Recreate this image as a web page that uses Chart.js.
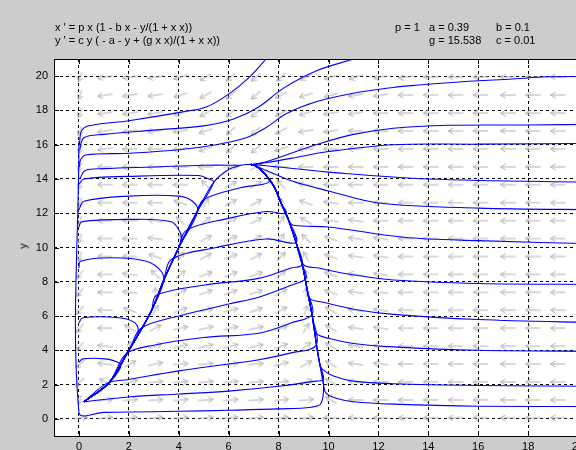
<!DOCTYPE html>
<html><head><meta charset="utf-8">
<script src="https://cdn.jsdelivr.net/npm/chart.js@4"></script>
<style>
html,body{margin:0;padding:0;background:#cccccc;overflow:hidden;width:576px;height:450px;}
#wrap{position:absolute;left:0;top:0;width:660px;height:480px;}
.hd{position:absolute;font:11px "Liberation Sans",Arial,sans-serif;color:#000;white-space:pre;line-height:13px;}
#ylab{position:absolute;left:20px;top:240px;font:11px "Liberation Sans",Arial,sans-serif;transform:rotate(-90deg);}
</style></head><body>
<div id="wrap"><canvas id="c" width="660" height="480"></canvas></div>
<div class="hd" style="left:55px;top:21px">x ' = p x (1 - b x - y/(1 + x x))</div>
<div class="hd" style="left:55px;top:34px">y ' = c y ( - a - y + (g x x)/(1 + x x))</div>
<div class="hd" style="left:395px;top:21px">p = 1</div>
<div class="hd" style="left:429px;top:21px">a = 0.39</div>
<div class="hd" style="left:496px;top:21px">b = 0.1</div>
<div class="hd" style="left:429px;top:34px">g = 15.538</div>
<div class="hd" style="left:496px;top:34px">c = 0.01</div>
<div id="ylab">y</div>
<script>
// ---- axis ticks ----
const xTicks = [0,2,4,6,8,10,12,14,16,18,20];
const yTicks = [0,2,4,6,8,10,12,14,16,18,20];

// ---- direction-field arrows (grid positions + direction codes) ----
const arrowCols = [0.04,1.05,2.05,3.06,4.07,5.08,6.08,7.09,8.1,9.1,10.1,11.1,12.1,13.1,14.1,15.1,16.1,17.2,18.2,19.2];
const arrowRows = [0.06,1.1,2.15,3.2,4.24,5.29,6.34,7.38,8.43,9.47,10.52,11.56,12.61,13.66,14.7,15.75,16.8,17.84,18.89,19.94];
const arrowGrid = [
 "rrrrrrrrrrllllllllll",
 "drrrrrrrrrhlllllllll",
 "chsrrrrrrShkllllllll",
 "cktsrrrrsthkklllllll",
 "eknSssssSThkklllllll",
 "elhtssssSqhkklllllll",
 "elgqSssStohkklllllll",
 "elkntSSStngkklllllll",
 "elkmTSSSTvgkklllllll",
 "dllgqtStuMgkklllllll",
 "dllkntStqmgkklllllll",
 "dllkmTttqhkkllllllll",
 "dlllgqttngklllllllll",
 "dllllmttmkllllllllll",
 "dlllllrtllllllllllll",
 "djlljJccJlllllllllll",
 "djjjjJccwjjlllllllll",
 "djjjJwccwJjjllllllll",
 "djjjJwccwJJjjlllllll",
 "djjjJwcccwJJjjllllll"
];
const codeAngle = {l:180,k:172,g:160,h:150,m:135,M:120,v:105,n:90,o:72,q:58,u:45,T:38,t:29,S:20,s:13,r:5,j:189,J:197,w:208,c:222,e:230,d:250};

// ---- trajectories ----
const rightBranch = [[9.85,1.0],[9.8,2],[9.65,3.2],[9.5,4.5],[9.35,6],[9.15,7.5],[8.95,9],[8.7,10.3],[8.4,11.6],[8.1,12.6],[7.8,13.6],[7.45,14.3],[7.1,14.75],[6.9,14.85]];
const leftBranch = [[0.2,1.0],[1.2,2.1],[2,4.0],[2.9,6.3],[3.4,8.1],[4,10],[4.7,12],[5.4,13.8],[6,14.55],[6.5,14.8],[6.9,14.85]];
const trBottom = [[0,16.2],[0,0.37],[1,0.38],[2,0.4],[4,0.44],[6,0.5],[8,0.58],[9.3,0.68],[9.7,0.9]];
const fan1 = [[0.2,1.0],[2,1.28],[4,1.45],[6,1.62],[8,1.9],[9.5,2.2],[9.8,2.3]];
const fan2 = [[1.15,2.1],[2,2.3],[4,2.8],[6,3.2],[7.2,3.45],[8.5,3.85],[9.5,4.3]];
const fan3 = [[1.9,3.8],[3,4.3],[5,4.75],[7.2,5.0],[8.5,5.6],[9.35,6.1]];
const fan4 = [[2.5,5.3],[4,6.0],[6,6.7],[7.2,7.1],[8.5,7.8],[9.1,8.2]];
const fan5 = [[3.1,7.2],[5,7.8],[7.2,8.2],[8.5,8.8],[8.95,9]];
const fan6 = [[3.7,9.3],[5.5,10],[7.5,10.5],[8.7,10.3]];
const fan7 = [[4.3,11],[6,11.7],[7.5,12.1],[8.3,12]];
const fan8 = [[5,12.8],[6.5,13.5],[7.6,13.8]];
const right1 = [[21,0.72],[16,0.74],[12.6,0.86],[11,1.0],[10.3,1.2],[9.9,1.5]];
const right2 = [[21,1.9],[16,1.95],[12.6,2.05],[11,2.2],[10.2,2.5],[9.75,2.9]];
const right4 = [[21,3.94],[16,4.0],[12.6,4.2],[11,4.4],[10,4.7],[9.5,5]];
const right6 = [[21,5.6],[16,5.8],[12.6,6.1],[11,6.4],[9.8,6.8],[9.25,7.0]];
const right8 = [[21,7.84],[16,7.9],[12.6,8.1],[11,8.4],[9.6,8.8],[9.0,9.0]];
const right10 = [[21,10.2],[16,10.4],[13,10.6],[10,11.2],[8.6,11.3]];
const right12 = [[21,12.2],[16,12.3],[12,12.6],[10,13.3],[8.5,13.9],[7.5,14.5],[7,14.8]];
const right14 = [[21,13.8],[14,14],[10,14.4],[8,14.7],[7,14.85]];
const right16 = [[21,16.08],[16,16.03],[12.6,16.0],[10,15.6],[8.5,15.2],[7.5,14.95],[7,14.85]];
const right17 = [[21,17.19],[17.9,17.15],[14.8,17.13],[12.6,16.96],[11,16.6],[9.5,16.0],[8.5,15.5],[7.5,15.0],[7,14.85]];
const right20 = [[21,19.98],[18.8,19.96],[17.25,19.82],[16,19.73],[14.95,19.63],[13.5,19.47],[12.6,19.34],[11,19.0],[9.5,18.5],[8.3,17.8],[7.5,17],[6.7,16.4],[5.5,16],[4,15.7],[2,15.5],[0.27,15.4],[0.06,15.1],[0.02,14.7]];
const topA = [[7.5,21],[6.8,19.9],[6.0,18.95],[5.1,18.2],[4.1,17.9],[2,17.4],[0.4,17.1],[0.1,16.8],[0.02,16.0]];
const topB = [[11,21],[9.5,20.3],[8.2,19.3],[7.2,18.2],[6.2,17.5],[5,17.1],[3,16.85],[1,16.6],[0.2,16.4],[0.03,15.7]];
const hook1 = [[6.5,14.8],[5,14.8],[3,14.7],[1,14.6],[0.25,14.5],[0.03,14.0]];
const hook2 = [[5.4,13.8],[5.2,14.0],[4.8,14.2],[2,14.15],[0.2,14.0],[0,13.7]];
const hook3 = [[4.76,12.1],[4.55,12.7],[4,13],[2,13],[0.2,12.7],[0,12.2]];
const hook4 = [[4.1,10.5],[4.05,10.9],[3.7,11.5],[2,11.64],[0.1,11.5],[0,11.2]];
const hook5 = [[3.38,7.95],[3.3,8.6],[2.7,9.2],[1.3,9.4],[0.06,9.2],[0,8.8]];
const hook6 = [[2.37,5.0],[2.25,5.6],[1.6,5.9],[0.15,5.9],[0,5.6]];
const hook7 = [[1.66,2.98],[1.6,3.27],[1.03,3.5],[0.15,3.5],[0,3.3]];

// a trajectory that leaves the left branch also runs back along it (backward solution)
function fromLeft(tr){
  const y0 = tr[0][1];
  return leftBranch.filter(p => p[1] < y0 - 0.2).concat(tr);
}
function joinBranch(tr){
  const last = tr[tr.length-1][1];
  return tr.concat(rightBranch.filter(p => p[1] > last + 0.2));
}
const trajectories = [
  leftBranch, joinBranch(trBottom), joinBranch(fan1), joinBranch(fromLeft(fan2)), joinBranch(fromLeft(fan3)), joinBranch(fromLeft(fan4)),
  joinBranch(fromLeft(fan5)), joinBranch(fromLeft(fan6)), joinBranch(fromLeft(fan7)), joinBranch(fromLeft(fan8)),
  joinBranch(right1), joinBranch(right2), joinBranch(right4), joinBranch(right6), joinBranch(right8),
  joinBranch(right10), right12, right14, right16, right17, right20, topA, topB,
  hook1, fromLeft(hook2), fromLeft(hook3), fromLeft(hook4), fromLeft(hook5), fromLeft(hook6), fromLeft(hook7)
];

// ---- arrow images ----
const imgCache = {};
function arrowImg(len){
  if (imgCache[len]) return imgCache[len];
  const s = 2*len+4, c = document.createElement('canvas');
  c.width = s; c.height = s;
  const g = c.getContext('2d');
  g.strokeStyle = '#b0b0b0'; g.lineWidth = 1;
  const cx = s/2, cy = s/2, h = len/2;
  g.beginPath();
  g.moveTo(cx-h, cy); g.lineTo(cx+h, cy);
  g.moveTo(cx+h-5, cy-3); g.lineTo(cx+h, cy); g.lineTo(cx+h-5, cy+3);
  g.stroke();
  imgCache[len] = c; return c;
}
const arrowPts = [], arrowAng = [];
arrowGrid.forEach((row, i) => {
  for (let j = 0; j < row.length; j++) {
    arrowPts.push({x: arrowCols[j], y: arrowRows[i]});
    arrowAng.push(codeAngle[row[j]]);
  }
});
function arrowLen(a){
  const r = a*Math.PI/180, cs = Math.cos(r)/15, sn = Math.sin(r)/10;
  return Math.round(1/Math.sqrt(cs*cs+sn*sn));
}

const datasets = [{
  label: 'field', data: arrowPts, showLine: false, order: 10,
  pointStyle: ctx => arrowImg(arrowLen(arrowAng[ctx.dataIndex] || 0)),
  rotation: ctx => -(arrowAng[ctx.dataIndex] || 0),
  pointRadius: 6, pointHoverRadius: 6
}];
trajectories.forEach((t, k) => datasets.push({
  label: 't'+k, data: t.map(p => ({x: p[0], y: p[1]})), showLine: true, order: 1,
  borderColor: '#0000ff', borderWidth: 1.1, pointRadius: 0, tension: 0.35, fill: false
}));

const boxPlugin = {
  id: 'box',
  afterDraw(chart){
    const {ctx, chartArea: a, scales} = chart;
    ctx.save();
    ctx.strokeStyle = '#000'; ctx.lineWidth = 1;
    ctx.strokeRect(a.left+0.5, a.top+0.5, a.right-a.left, a.bottom-a.top);
    ctx.beginPath();
    xTicks.forEach(v => { const px = Math.round(scales.x.getPixelForValue(v))+0.5;
      ctx.moveTo(px, a.bottom); ctx.lineTo(px, a.bottom-5); ctx.moveTo(px, a.top); ctx.lineTo(px, a.top+5); });
    yTicks.forEach(v => { const py = Math.round(scales.y.getPixelForValue(v))+0.5;
      ctx.moveTo(a.left, py); ctx.lineTo(a.left+5, py); ctx.moveTo(a.right, py); ctx.lineTo(a.right-5, py); });
    ctx.stroke();
    ctx.restore();
  }
};
const bgPlugin = {
  id: 'bg',
  beforeDraw(chart){
    const {ctx, chartArea: a} = chart;
    ctx.save(); ctx.fillStyle = '#fff';
    ctx.fillRect(a.left, a.top, a.right-a.left, a.bottom-a.top); ctx.restore();
  }
};

new Chart(document.getElementById('c'), {
  type: 'scatter',
  data: { datasets },
  options: {
    responsive: false, animation: false, events: [],
    layout: { padding: { left: 0, top: 59, right: 57, bottom: 19 } },
    plugins: { legend: {display: false}, tooltip: {enabled: false} },
    scales: {
      x: { type: 'linear', min: -1, max: 21,
        afterBuildTicks: s => { s.ticks = xTicks.map(v => ({value: v})); },
        afterFit: s => { s.height = 25; },
        grid: { color: '#000', lineWidth: 1, drawTicks: false },
        border: { display: false, dash: [3,3] },
        ticks: { color: '#000', padding: 4, font: {family: 'Liberation Sans', size: 11}, maxRotation: 0 } },
      y: { type: 'linear', min: -1, max: 21,
        afterBuildTicks: s => { s.ticks = yTicks.map(v => ({value: v})); },
        afterFit: s => { s.width = 54; },
        grid: { color: '#000', lineWidth: 1, drawTicks: false },
        border: { display: false, dash: [3,3] },
        ticks: { color: '#000', padding: 6, font: {family: 'Liberation Sans', size: 11} } }
    }
  },
  plugins: [bgPlugin, boxPlugin]
});
</script>
</body></html>
